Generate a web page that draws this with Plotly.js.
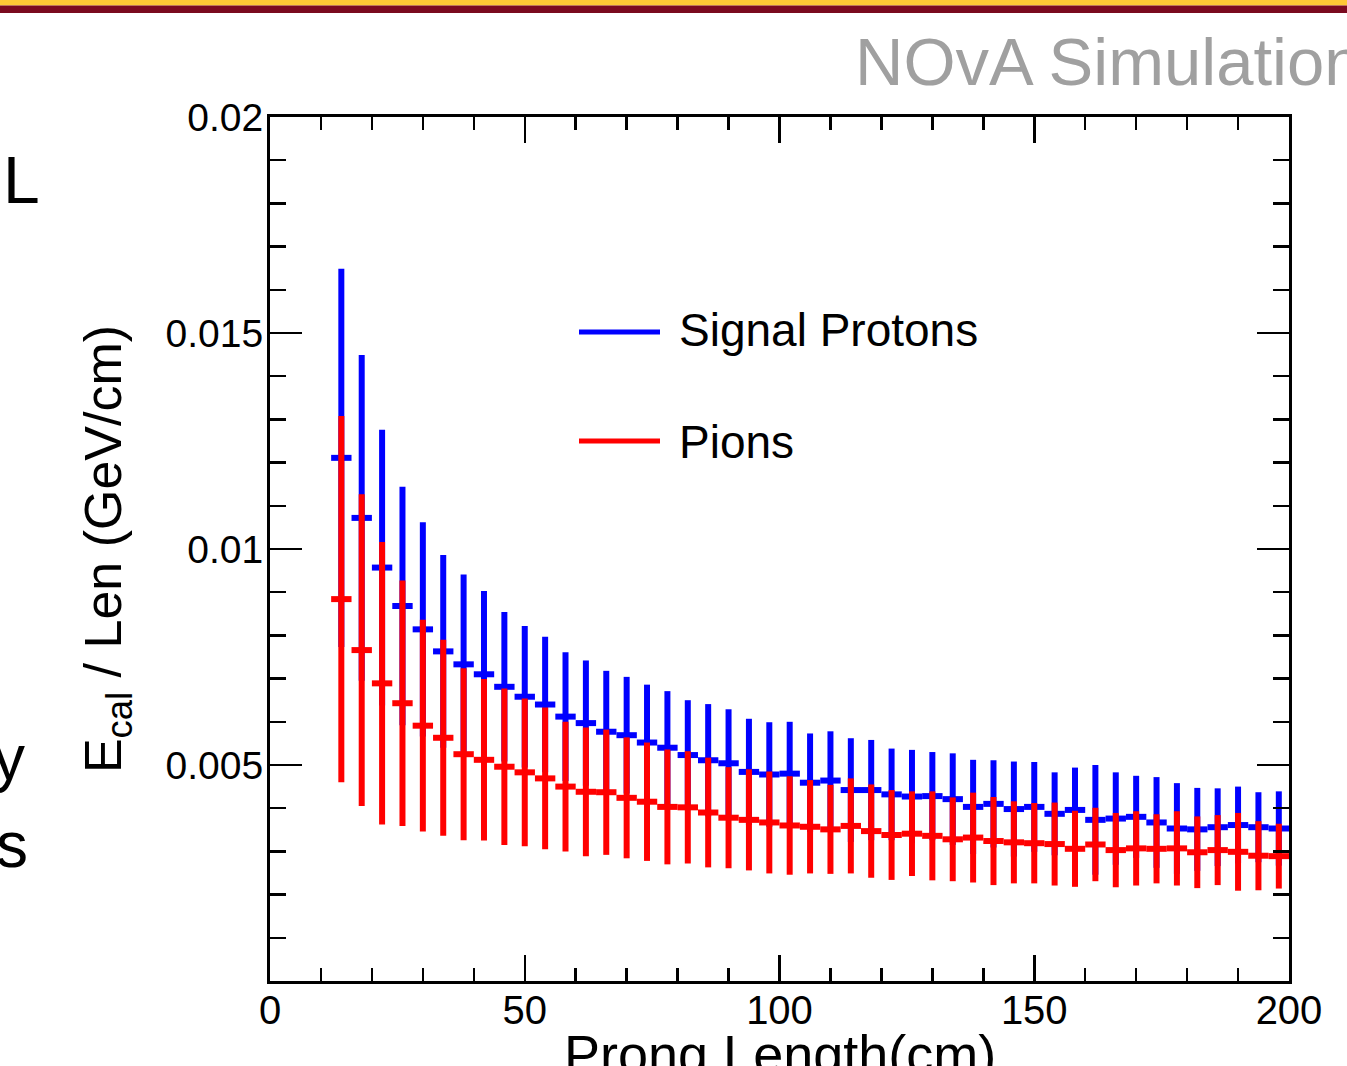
<!DOCTYPE html>
<html>
<head>
<meta charset="utf-8">
<script src="https://cdn.plot.ly/plotly-3.0.1.min.js"></script>
<style>html,body{margin:0;padding:0;background:#ffffff;}#chart{width:1347px;height:1066px;}</style>
</head>
<body>
<div id="chart"></div>
<script>
// Bin centres of prong length (cm), 4 cm bins from 12 to 200
const binCenters = [14,18,22,26,30,34,38,42,46,50,54,58,62,66,70,74,78,82,86,90,94,98,102,106,110,114,118,122,126,130,134,138,142,146,150,154,158,162,166,170,174,178,182,186,190,194,198];
const binHalfWidth = 2;

// Signal protons: mean Ecal/Len (GeV/cm) and its spread
const protonMean = [0.01211,0.01072,0.00957,0.00868,0.00814,0.00763,0.00733,0.00710,0.00681,0.00658,0.00640,0.00612,0.00597,0.00577,0.00569,0.00552,0.00540,0.00523,0.00511,0.00504,0.00484,0.00478,0.00480,0.00459,0.00464,0.00442,0.00442,0.00432,0.00427,0.00428,0.00421,0.00403,0.00410,0.00398,0.00403,0.00387,0.00396,0.00373,0.00376,0.00380,0.00367,0.00353,0.00351,0.00356,0.00361,0.00356,0.00353];
const protonErr = [0.00438,0.00377,0.00319,0.00276,0.00248,0.00223,0.00208,0.00193,0.00173,0.00164,0.00157,0.00149,0.00145,0.00141,0.00135,0.00134,0.00131,0.00127,0.00130,0.00125,0.00123,0.00121,0.00120,0.00114,0.00114,0.00120,0.00116,0.00106,0.00108,0.00102,0.00106,0.00109,0.00101,0.00110,0.00104,0.00096,0.00098,0.00127,0.00107,0.00095,0.00105,0.00105,0.00096,0.00090,0.00089,0.00081,0.00086];

// Pions
const pionMean = [0.00884,0.00766,0.00689,0.00643,0.00591,0.00563,0.00525,0.00512,0.00496,0.00483,0.00469,0.00450,0.00438,0.00437,0.00424,0.00415,0.00403,0.00402,0.00390,0.00378,0.00373,0.00367,0.00360,0.00357,0.00351,0.00359,0.00347,0.00338,0.00341,0.00336,0.00328,0.00332,0.00324,0.00321,0.00319,0.00317,0.00306,0.00316,0.00303,0.00307,0.00306,0.00307,0.00298,0.00303,0.00299,0.00290,0.00289];
const pionErr = [0.00424,0.00361,0.00327,0.00284,0.00245,0.00227,0.00199,0.00187,0.00181,0.00171,0.00164,0.00150,0.00149,0.00145,0.00140,0.00137,0.00133,0.00130,0.00127,0.00117,0.00117,0.00118,0.00114,0.00108,0.00103,0.00110,0.00108,0.00104,0.00098,0.00103,0.00097,0.00104,0.00102,0.00095,0.00093,0.00096,0.00088,0.00085,0.00086,0.00086,0.00080,0.00086,0.00083,0.00081,0.00090,0.00080,0.00075];

const xTickVals = [0,50,100,150,200];
const yTickVals = [0.005,0.01,0.015,0.02];
const yTickText = ['0.005','0.01','0.015','0.02'];
const xTitle = 'Prong Length(cm)';
const yTitle = 'E<sub>cal</sub> / Len (GeV/cm)';

const BLUE = '#0000ff', RED = '#ff0000';
const FONT = 'Liberation Sans, Arial, Helvetica, sans-serif';

function series(name, y, err, color) {
  return {
    type: 'scatter', mode: 'markers', name: name, showlegend: false,
    x: binCenters, y: y,
    marker: {size: 0.1, color: color, opacity: 0},
    error_x: {type: 'constant', value: binHalfWidth, color: color, thickness: 6, width: 0},
    error_y: {type: 'data', array: err, symmetric: true, color: color, thickness: 6, width: 0},
    hoverinfo: 'x+y'
  };
}

const data = [
  series('Signal Protons', protonMean, protonErr, BLUE),
  series('Pions', pionMean, pionErr, RED)
];

const L = 270, R = 1289, T = 117, B = 981;
const px = v => (v - L) / (R - L);
const py = v => (B - v) / (B - T);

const layout = {
  width: 1347, height: 1066,
  margin: {l: L, r: 1347 - R, t: T, b: 1066 - B},
  paper_bgcolor: '#ffffff', plot_bgcolor: '#ffffff',
  font: {family: FONT, color: '#000000'},
  showlegend: false,
  xaxis: {
    range: [0, 200], tickvals: xTickVals, ticks: 'inside', ticklen: 26, tickwidth: 2.5,
    tickcolor: '#000', showline: true, linewidth: 3, linecolor: '#000', mirror: 'allticks',
    showgrid: false, zeroline: false,
    tickfont: {size: 40, family: FONT},
    ticklabelstandoff: -8,
    minor: {dtick: 10, ticks: 'inside', ticklen: 13, tickwidth: 2.5, tickcolor: '#000', showgrid: false}
  },
  yaxis: {
    range: [0, 0.02], tickvals: yTickVals, ticktext: yTickText, ticks: 'inside', ticklen: 32, tickwidth: 2.5,
    tickcolor: '#000', showline: true, linewidth: 3, linecolor: '#000', mirror: 'allticks',
    showgrid: false, zeroline: false,
    tickfont: {size: 39, family: FONT},
    ticklabelstandoff: -4,
    minor: {dtick: 0.001, ticks: 'inside', ticklen: 16, tickwidth: 2.5, tickcolor: '#000', showgrid: false},
    title: {text: yTitle, font: {size: 52, family: FONT}, standoff: 28}
  },
  shapes: [
    {type: 'rect', xref: 'paper', yref: 'paper', x0: px(0), x1: px(1347), y0: py(5.5), y1: py(0), fillcolor: '#fdc935', line: {width: 0}},
    {type: 'rect', xref: 'paper', yref: 'paper', x0: px(0), x1: px(1347), y0: py(13), y1: py(5.5), fillcolor: '#7a0a1f', line: {width: 0}},
    {type: 'line', xref: 'paper', yref: 'paper', x0: px(579), x1: px(660), y0: py(332), y1: py(332), line: {color: BLUE, width: 5}},
    {type: 'line', xref: 'paper', yref: 'paper', x0: px(579), x1: px(660), y0: py(441), y1: py(441), line: {color: RED, width: 5}}
  ],
  annotations: [
    {xref: 'paper', yref: 'paper', x: 0.5, y: py(1054), xanchor: 'center', yanchor: 'middle', showarrow: false,
     text: xTitle, font: {size: 54, family: FONT, color: '#000'}},
    {xref: 'paper', yref: 'paper', x: px(677), y: py(330), xanchor: 'left', yanchor: 'middle', showarrow: false,
     text: 'Signal Protons', font: {size: 46, family: FONT, color: '#000'}},
    {xref: 'paper', yref: 'paper', x: px(677), y: py(442), xanchor: 'left', yanchor: 'middle', showarrow: false,
     text: 'Pions', font: {size: 46, family: FONT, color: '#000'}},
    {xref: 'paper', yref: 'paper', x: px(853), y: py(62), xanchor: 'left', yanchor: 'middle', showarrow: false,
     text: 'NOvA Simulation', font: {size: 67, family: FONT, color: '#a0a0a0'}},
    {xref: 'paper', yref: 'paper', x: px(42), y: py(180), xanchor: 'right', yanchor: 'middle', showarrow: false,
     text: 'L', font: {size: 66, family: FONT, color: '#000'}},
    {xref: 'paper', yref: 'paper', x: px(27), y: py(758), xanchor: 'right', yanchor: 'middle', showarrow: false,
     text: 'y', font: {size: 64, family: FONT, color: '#000'}},
    {xref: 'paper', yref: 'paper', x: px(30), y: py(845), xanchor: 'right', yanchor: 'middle', showarrow: false,
     text: 's', font: {size: 64, family: FONT, color: '#000'}}
  ]
};

Plotly.newPlot('chart', data, layout, {staticPlot: true, displayModeBar: false});
</script>
</body>
</html>
